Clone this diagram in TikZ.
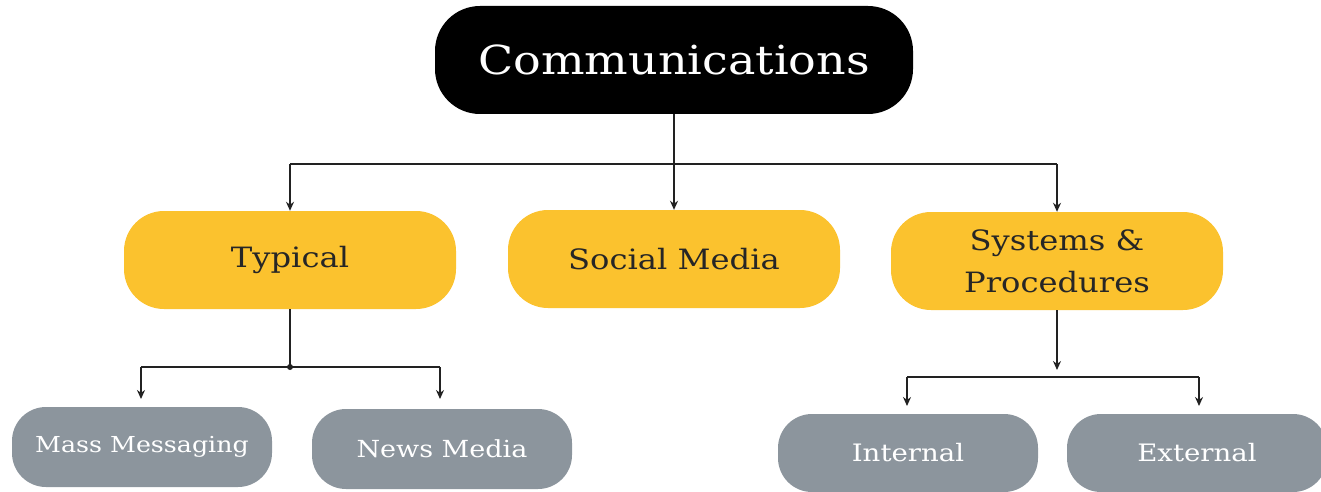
\documentclass[tikz,border=0pt]{standalone}
\usepackage{fontspec}
\setmainfont[FakeStretch=1.15]{DejaVu Serif}
\usetikzlibrary{arrows.meta}
\definecolor{topblack}{HTML}{000000}
\definecolor{midyellow}{HTML}{FBC22E}
\definecolor{lowgray}{HTML}{8C959D}
\definecolor{linegray}{HTML}{222222}
\tikzset{
  topbox/.style={fill=topblack, text=white, rounded corners=45pt, minimum width=478pt, minimum height=108pt, inner sep=0pt, font=\fontsize{40}{44}\selectfont},
  midbox/.style={fill=midyellow, text=black!85, rounded corners=40pt, minimum width=332pt, minimum height=98pt, inner sep=0pt, align=center, font=\fontsize{28}{42}\selectfont},
  lowbox/.style={fill=lowgray, text=white, rounded corners=34pt, minimum width=260pt, minimum height=80pt, inner sep=0pt, font=\fontsize{23.5}{26}\selectfont},
  conn/.style={draw=linegray, line width=1.5pt},
  arr/.style={conn, -{Stealth[length=9pt,width=8pt]}},
}
\begin{document}
\begin{tikzpicture}[x=1pt, y=-1pt]
\useasboundingbox (0,0) rectangle (1321,492);
\node[topbox] (comm) at (674,60) {Communications};
\node[midbox] (typ) at (290,260) {Typical};
\node[midbox] (soc) at (674,259) {Social Media};
\node[midbox] (sys) at (1057,261) {Systems \&\\Procedures};
\node[lowbox, font=\fontsize{22}{24}\selectfont] (mass) at (142,447) {Mass Messaging};
\node[lowbox] (news) at (442,449) {News Media};
\node[lowbox, minimum height=78pt, font=\fontsize{24}{26}\selectfont] (int) at (908,453) {Internal};
\node[lowbox, minimum height=78pt, font=\fontsize{24}{26}\selectfont] (ext) at (1197,453) {External};
% top level connectors
\coordinate (j1l) at (290,164);
\coordinate (j1r) at (1057,164);
\draw[arr] (comm.south) -- (soc.north);
\draw[conn] (j1l) -- (j1r);
\draw[arr] (j1l) -- (j1l |- typ.north);
\draw[arr] (j1r) -- (j1r |- sys.north);
% typical
\coordinate (j2) at (290,367);
\coordinate (j2l) at (141,367);
\coordinate (j2r) at (440,367);
\draw[conn] (typ.south) -- (j2);
\fill[linegray] (j2) circle (3pt);
\draw[conn] (j2l) -- (j2r);
\draw[arr] (j2l) -- (141,399);
\draw[arr] (j2r) -- (440,399);
% systems
\coordinate (j3) at (1057,370);
\coordinate (j3l) at (907,377);
\coordinate (j3r) at (1199,377);
\draw[arr] (sys.south) -- (j3);
\draw[conn] (j3l) -- (j3r);
\draw[arr] (j3l) -- (907,406);
\draw[arr] (j3r) -- (1199,406);
\end{tikzpicture}
\end{document}
